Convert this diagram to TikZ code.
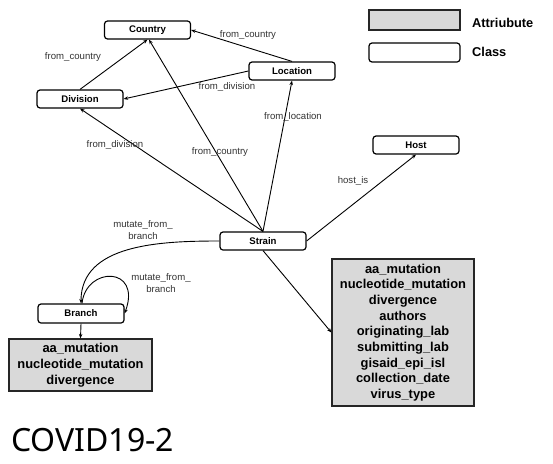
\documentclass[tikz,border=0pt]{standalone}
\usepackage{fontspec}
\setmainfont{Liberation Sans}
\newfontfamily\titlefont{Noto Sans}
\usetikzlibrary{arrows.meta}
\begin{document}
\begin{tikzpicture}[x=1pt,y=-1pt,
  cls/.style={draw, rounded corners=3pt, line width=1.2pt, minimum width=86pt, minimum height=18pt, inner sep=0pt, font=\fontsize{9.6}{11}\selectfont\bfseries},
  attr/.style={draw=black!85, fill=black!15, line width=1.2pt, align=center, inner sep=0pt, font=\fontsize{12.9}{15.7}\selectfont\bfseries},
  lbl/.style={font=\fontsize{9.6}{11.3}\selectfont, text=black!80, inner sep=0pt, align=center},
  arr/.style={-{Stealth[length=4.5pt,width=3.5pt]}, line width=0.9pt},
  legtxt/.style={anchor=west, inner sep=0pt, font=\fontsize{12.8}{15}\selectfont\bfseries}]
\useasboundingbox (0,0) rectangle (553,463);
% legend
\node[attr, minimum width=91pt, minimum height=20pt] (legA) at (414.5,20) {};
\node[cls, minimum width=91pt, minimum height=19pt] (legC) at (414.5,52.5) {};
\node[legtxt] (legAt) at (472,23) {Attriubute};
\node[legtxt] (legCt) at (472,52) {Class};
% classes
\node[cls] (Country) at (147.5,30) {Country};
\node[cls] (Location) at (292,71) {Location};
\node[cls] (Division) at (80,99) {Division};
\node[cls] (Strain) at (263,241) {Strain};
\node[cls, minimum height=19pt] (Branch) at (81,313.5) {Branch};
\node[cls] (Host) at (416,145) {Host};
% attributes
\node[attr, minimum width=142pt, minimum height=147pt] (attrS) at (403,332.5) {aa\_mutation\\nucleotide\_mutation\\divergence\\authors\\originating\_lab\\submitting\_lab\\gisaid\_epi\_isl\\collection\_date\\virus\_type};
\node[attr, minimum width=143pt, minimum height=52pt] (attrB) at (80.5,365) {aa\_mutation\\nucleotide\_mutation\\divergence};
% edges
\draw[arr] (Division.north) -- (Country.south);
\draw[arr] (Location.north) -- (Country.east);
\draw[arr] (Location.west) -- (Division.east);
\draw[arr] (Strain.north) -- (Division.south);
\draw[arr] (Strain.north) -- ([xshift=1.5pt]Country.south);
\draw[arr] (Strain.north) -- (Location.south);
\draw[arr] (Strain.east) -- (Host.south);
\draw[arr] (Strain.south) -- (attrS.west);
\draw[arr] (Strain.west) to[out=180,in=90] (Branch.north);
\draw[arr] ([xshift=1pt]Branch.north) .. controls (86,266) and (142,266) .. (Branch.east);
\draw[arr] (Branch.south) -- (attrB.north);
% labels
\node[lbl] (l1) at (73,57) {from\_country};
\node[lbl] (l2) at (248,35) {from\_country};
\node[lbl] (l3) at (227,87) {from\_division};
\node[lbl] (l4) at (115,145) {from\_division};
\node[lbl] (l5) at (220,152) {from\_country};
\node[lbl] (l6) at (293,117) {from\_location};
\node[lbl] (l7) at (353,181) {host\_is};
\node[lbl] (l8) at (143,230) {mutate\_from\_\\branch};
\node[lbl] (l9) at (161,283) {mutate\_from\_\\branch};
% title
\node[anchor=west, inner sep=0pt, font=\titlefont\fontsize{32}{38}\selectfont] (title) at (11,440) {COVID19-2};
\end{tikzpicture}
\end{document}
